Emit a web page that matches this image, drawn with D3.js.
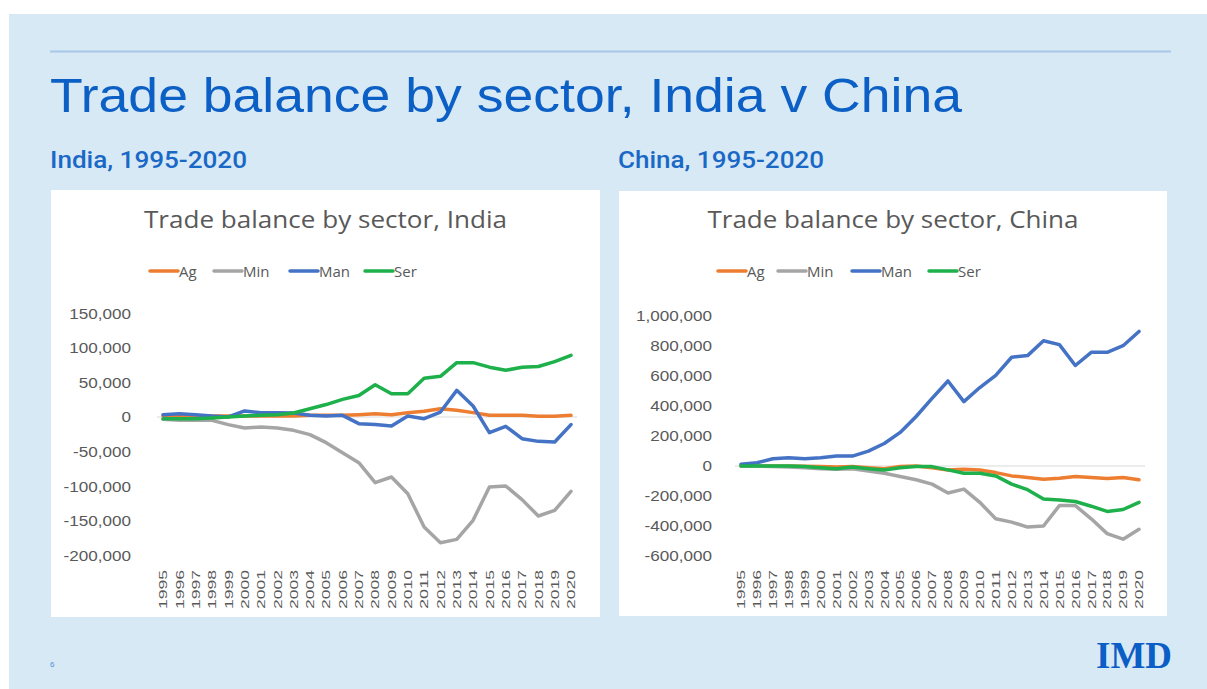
<!DOCTYPE html>
<html><head><meta charset="utf-8">
<script src="https://cdn.jsdelivr.net/npm/d3@7"></script>
<style>html,body{margin:0;padding:0;background:#fff;} svg{display:block}</style>
</head><body><svg id="c" width="1207" height="689"></svg>
<script>
// ---------- data ----------
const years = ["1995","1996","1997","1998","1999","2000","2001","2002","2003","2004","2005","2006","2007","2008","2009","2010","2011","2012","2013","2014","2015","2016","2017","2018","2019","2020"];
const seriesNames = ["Ag","Min","Man","Ser"];
const seriesColors = ["#ed7d31","#a5a5a5","#4472c4","#1db04b"];

const indiaAg  = [1400,1400,1400,1400,1400,1400,1400,1400,1400,2400,2400,2400,3400,4800,3400,6300,8200,12000,9600,6300,2400,2400,2400,1000,1000,2400];
const indiaMin = [-3400,-4800,-4800,-4800,-11000,-15900,-14500,-15900,-19300,-25500,-37100,-51500,-66000,-94900,-86700,-110800,-159000,-181600,-176800,-149300,-101200,-99700,-119400,-143100,-134900,-107400];
const indiaMan = [3400,4800,3400,1400,0,8700,6300,6300,5800,2400,1400,2400,-9600,-11000,-13000,1400,-2400,7200,38500,15900,-22600,-13500,-31300,-35200,-36100,-11000];
const indiaSer = [-2400,-2400,-2400,-1400,0,1400,2400,3400,5800,12000,18000,25500,31000,46700,33700,33700,56000,58800,78500,78500,72000,67500,72000,73000,80000,89000];

const chinaAg  = [0,0,0,0,-2000,-4000,-6000,-4000,-11000,-18000,-4000,0,-11000,-26000,-22000,-26000,-44000,-66000,-77000,-88000,-81000,-70000,-77000,-84000,-77000,-92000];
const chinaMin = [0,0,-4000,-7000,-11000,-18000,-22000,-18000,-33000,-48000,-70000,-92000,-121000,-180000,-154000,-242000,-352000,-374000,-407000,-400000,-264000,-264000,-352000,-451000,-488000,-422000];
const chinaMan = [11000,22000,48000,55000,48000,55000,66000,66000,99000,150000,224000,330000,451000,567000,429000,523000,604000,725000,736000,835000,809000,670000,758000,758000,802000,897000];
const chinaSer = [0,0,0,0,-4000,-11000,-18000,-7000,-18000,-26000,-11000,-4000,-4000,-26000,-48000,-48000,-66000,-121000,-158000,-220000,-226000,-237000,-268000,-303000,-290000,-242000];

const indiaTicks = [-200000,-150000,-100000,-50000,0,50000,100000,150000];
const chinaTicks = [-600000,-400000,-200000,0,200000,400000,600000,800000,1000000];

const pageTitle = "Trade balance by sector, India v China";
const indiaSub = "India, 1995-2020";
const chinaSub = "China, 1995-2020";
const indiaChartTitle = "Trade balance by sector, India";
const chinaChartTitle = "Trade balance by sector, China";

// ---------- drawing ----------
const svg = d3.select("#c");
const fmt = d3.formatLocale({decimal:".", thousands:",", grouping:[3], currency:["$",""], minus:"-"}).format(",");
const stretch = (sel, k) => sel.each(function(){ const w=this.getComputedTextLength(); d3.select(this).attr("textLength", w*k).attr("lengthAdjust","spacingAndGlyphs"); });
const fitTo = (sel, w) => sel.attr("textLength", w).attr("lengthAdjust","spacingAndGlyphs");

svg.append("rect").attr("x",9).attr("y",14).attr("width",1198).attr("height",675).attr("fill","#d7e9f5");
svg.append("line").attr("x1",50).attr("x2",1171).attr("y1",51.5).attr("y2",51.5).attr("stroke","#a7c8e8").attr("stroke-width",2);

svg.append("text").attr("x",50).attr("y",112).text(pageTitle)
  .attr("font-family","Liberation Sans, Arial, sans-serif").attr("font-size",49).attr("fill","#0c5fc4").call(fitTo,912);

svg.append("text").attr("x",50).attr("y",168).text(indiaSub)
  .attr("font-family","Roboto, sans-serif").attr("font-weight",500).attr("font-size",23).attr("fill","#1a68c6").call(fitTo,197);
svg.append("text").attr("x",618).attr("y",168).text(chinaSub)
  .attr("font-family","Roboto, sans-serif").attr("font-weight",500).attr("font-size",23).attr("fill","#1a68c6").call(fitTo,206);

svg.append("text").attr("x",1096).attr("y",668).text("IMD")
  .attr("font-family","Liberation Serif, serif").attr("font-weight","bold").attr("font-size",38).attr("fill","#0b5ec6").call(fitTo,76);
svg.append("text").attr("x",50).attr("y",667).text("6")
  .attr("font-family","Liberation Sans, sans-serif").attr("font-size",8).attr("fill","#4a8fd6");

function panel(cfg){
  const g = svg.append("g");
  g.append("rect").attr("x",cfg.px).attr("y",cfg.py).attr("width",cfg.pw).attr("height",cfg.ph).attr("fill","#ffffff");
  g.append("text").attr("x",cfg.px+cfg.pw/2).attr("y",228).attr("text-anchor","middle").text(cfg.title)
    .attr("font-family","Open Sans, sans-serif").attr("font-size",24).attr("fill","#595959").call(fitTo,cfg.titleW);

  const x = d3.scalePoint().domain(years).range(cfg.xr);
  const y = d3.scaleLinear().domain(cfg.yd).range(cfg.yr);

  // zero line
  g.append("line").attr("x1",cfg.xr[0]-6).attr("x2",cfg.xr[1]+6).attr("y1",y(0)).attr("y2",y(0)).attr("stroke","#d9d9d9").attr("stroke-width",1);

  // y axis
  const ya = g.append("g").attr("transform",`translate(${cfg.yAxisX},0)`)
    .call(d3.axisLeft(y).tickValues(cfg.ticks).tickSize(0).tickPadding(0).tickFormat(fmt));
  ya.select(".domain").remove();
  ya.selectAll("text").attr("font-family","Liberation Sans, Arial, sans-serif").attr("font-size",15).attr("fill","#595959").call(stretch,1.14);

  // x axis
  const xa = g.append("g").attr("transform",`translate(0,609)`)
    .call(d3.axisBottom(x).tickSize(0));
  xa.select(".domain").remove();
  xa.selectAll("text").attr("transform","rotate(-90)").attr("text-anchor","start")
    .attr("x",0).attr("y",0).attr("dy","0.36em")
    .attr("font-family","Liberation Sans, Arial, sans-serif").attr("font-size",10.5).attr("fill","#595959").call(fitTo,39);

  // legend
  cfg.legend.forEach((lx,i)=>{
    g.append("line").attr("x1",lx).attr("x2",lx+28).attr("y1",271).attr("y2",271)
      .attr("stroke",seriesColors[i]).attr("stroke-width",3.5).attr("stroke-linecap","round");
    g.append("text").attr("x",lx+29).attr("y",276.5).text(seriesNames[i])
      .attr("font-family","Open Sans, sans-serif").attr("font-size",15).attr("fill","#595959");
  });

  const line = d3.line().x((d,i)=>x(years[i])).y(d=>y(d));
  cfg.series.forEach((s,i)=>{
    g.append("path").datum(s).attr("d",line).attr("fill","none")
      .attr("stroke",seriesColors[i]).attr("stroke-width",3.5).attr("stroke-linejoin","round").attr("stroke-linecap","round");
  });
}

panel({px:51,py:190,pw:549,ph:427,title:indiaChartTitle,titleW:363,
  xr:[163,571], yd:[-200000,150000], yr:[555.4,313.2], yAxisX:131, ticks:indiaTicks,
  legend:[150,214,290,365],
  series:[indiaAg,indiaMin,indiaMan,indiaSer]});

panel({px:619,py:191,pw:548,ph:425,title:chinaChartTitle,titleW:371,
  xr:[741,1139], yd:[-600000,1000000], yr:[556,316], yAxisX:712, ticks:chinaTicks,
  legend:[718,778,852,929],
  series:[chinaAg,chinaMin,chinaMan,chinaSer]});
</script></body></html>
